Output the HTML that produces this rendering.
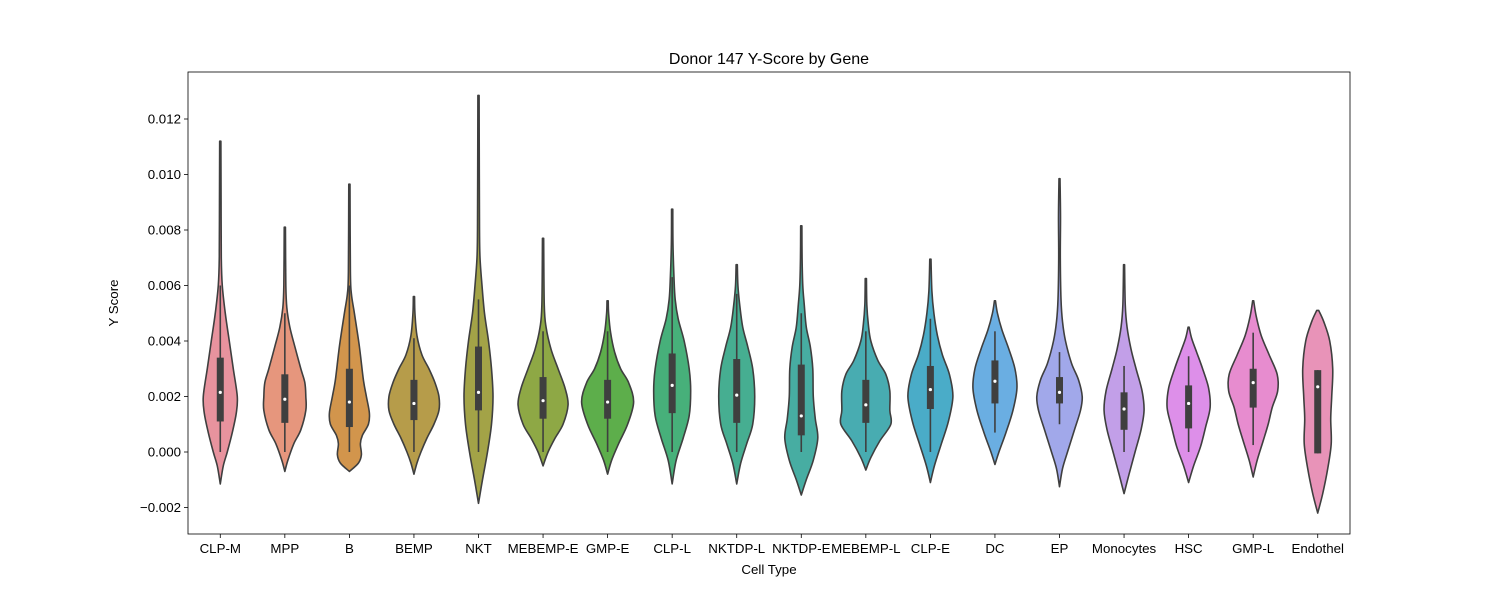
<!DOCTYPE html>
<html><head><meta charset="utf-8"><style>
body{margin:0;background:#fff;}
svg text{font-family:"Liberation Sans","DejaVu Sans",sans-serif;fill:#000;}
</style></head><body>
<svg id="chart" width="1500" height="600" xmlns="http://www.w3.org/2000/svg">
<rect width="1500" height="600" fill="#fff"/>
<text x="769" y="64" font-size="16" text-anchor="middle">Donor 147 Y-Score by Gene</text>
<g id="plot"></g>
<text x="769" y="574" font-size="13.3" text-anchor="middle">Cell Type</text>
<text transform="translate(118,303) rotate(-90)" font-size="13.3" text-anchor="middle">Y Score</text>
</svg>
<script>
const categories=["CLP-M","MPP","B","BEMP","NKT","MEBEMP-E","GMP-E","CLP-L","NKTDP-L","NKTDP-E","MEBEMP-L","CLP-E","DC","EP","Monocytes","HSC","GMP-L","Endothel"];
const colors=["#e8939e","#e6967d","#d2954c","#b69c4a","#a3a347","#8ea845","#5dae4b","#47b07a","#46ae91","#47ada2","#48acb1","#4aacc8","#6aaee2","#a1a8ea","#c29fe8","#dd8fe9","#e78ccf","#e893b8"];
// density profiles: [value (x1e-3), half-width density]
const densities=[
[[-1.15,0],[-0.5,3],[0,7],[0.7,12],[1.4,16],[2,17],[3,13],[4,9],[5,5],[6,2],[7,1],[9,0.8],[11.2,0.6]],
[[-0.7,0],[-0.3,3],[0.3,9],[0.8,16],[1.5,21],[2,21],[2.5,20],[3,16],[3.8,10],[4.5,5],[5.2,2],[6,1],[8.1,0.6]],
[[-0.7,0],[-0.4,9],[-0.1,12],[0.3,11],[0.6,13],[1.0,19],[1.4,20],[2,17],[2.6,14],[3.8,10],[5,5],[5.7,2],[6.5,1],[9.65,0.6]],
[[-0.8,0],[-0.4,3],[0,7],[0.5,13],[1,20],[1.5,25],[2,25],[2.5,21],[3,15],[3.5,8],[4.2,3],[5,1],[5.6,0.6]],
[[-1.85,0],[-1,4],[0,9],[1,13],[2,14.5],[3,13],[4,10],[5,6],[6,3.5],[7,1.5],[8,1],[10,0.8],[12.85,0.6]],
[[-0.5,0],[0,5],[0.5,12],[1,20],[1.7,25],[2.3,22],[3,15],[3.7,8],[4.5,3],[5.3,1.2],[7.7,0.6]],
[[-0.8,0],[-0.3,4],[0.3,11],[1,20],[1.8,26],[2.5,21],[3,13],[3.6,7],[4.3,3],[5,1],[5.45,0.6]],
[[-1.15,0],[-0.3,4],[0.5,11],[1.3,17],[2.2,18.5],[3,17],[4,12],[4.8,6],[5.5,3],[6.3,1.8],[7.5,0.8],[8.75,0.6]],
[[-1.15,0],[-0.4,4],[0.3,10],[1,16],[2,18],[3,16],[3.8,11],[4.5,6],[5.3,3],[6,1.2],[6.75,0.6]],
[[-1.55,0],[-1,5],[-0.3,12],[0.5,16.5],[1.2,14],[2,12],[3,11.5],[3.8,9],[4.5,5],[5.3,3],[6,1.5],[7,0.8],[8.15,0.6]],
[[-0.65,0],[-0.2,5],[0.4,14],[1,25],[1.5,24],[2.2,24],[2.8,20],[3.3,12],[4,5],[4.6,2.5],[5.3,1],[6.25,0.6]],
[[-1.1,0],[-0.5,4],[0.3,11],[1.1,18],[2,22.5],[2.8,19],[3.5,12],[4.2,7],[5,3.5],[5.8,1.5],[6.95,0.6]],
[[-0.45,0],[0,4],[0.7,11],[1.5,18],[2.3,22],[3,20],[3.7,14],[4.4,7],[5,2.5],[5.45,0.5]],
[[-1.25,0],[-0.6,3],[0,8],[0.8,15],[1.5,21],[2,22.7],[2.6,19],[3.2,12],[4,6],[4.7,3],[5.5,1.5],[7,0.8],[8.5,1],[9.85,0.5]],
[[-1.5,0],[-0.8,5],[0,11],[0.8,17],[1.5,20],[2.2,18],[3,12],[3.7,7],[4.5,3],[5.3,1.2],[6.75,0.5]],
[[-1.1,0],[-0.5,5],[0.2,12],[0.9,17],[1.6,21.5],[2.3,20],[3,14],[3.6,8],[4.1,3],[4.5,0.5]],
[[-0.9,0],[-0.3,4],[0.4,10],[1,15],[1.6,19],[2.2,24.5],[2.8,24],[3.5,16],[4.2,8],[4.9,3],[5.45,0.5]],
[[-2.2,0],[-1.5,5],[-0.6,10],[0.3,13.5],[1.2,13],[2,14],[3,15],[4,12],[4.7,6],[5.1,1]]
];
const q1=[1.1,1.05,0.9,1.15,1.5,1.2,1.2,1.4,1.05,0.6,1.05,1.55,1.75,1.75,0.8,0.85,1.6,-0.05];
const q3=[3.4,2.8,3.0,2.6,3.8,2.7,2.6,3.55,3.35,3.15,2.6,3.1,3.3,2.7,2.15,2.4,3.0,2.95];
const medians=[2.15,1.9,1.8,1.75,2.15,1.85,1.8,2.4,2.05,1.3,1.7,2.25,2.55,2.15,1.55,1.75,2.5,2.35];
const whiskerLo=[0,0,0,0,0,0,0,0,0,0,0,0,0.7,1.0,0,0,0.25,-0.05];
const whiskerHi=[6.0,5.0,6.0,4.1,5.5,4.35,4.35,6.3,5.7,5.0,4.35,4.8,4.35,3.6,3.1,3.45,4.3,2.95];
const yTicks=[-0.002,0,0.002,0.004,0.006,0.008,0.010,0.012];
const yTickLabels=["\u22120.002","0.000","0.002","0.004","0.006","0.008","0.010","0.012"];

const L=188,R=1350,T=72,B=534;
const y=v=>452-v*27.75;
const bw=(R-L)/categories.length;
const x=i=>L+bw*(i+0.5);
const NS="http://www.w3.org/2000/svg";
const g=document.getElementById('plot');
function mk(t,a,p){const e=document.createElementNS(NS,t);for(const k in a)e.setAttribute(k,a[k]);(p||g).appendChild(e);return e;}
function segs(pts){let d="";for(let i=0;i<pts.length-1;i++){const p0=pts[Math.max(0,i-1)],p1=pts[i],p2=pts[i+1],p3=pts[Math.min(pts.length-1,i+2)];const c1=[p1[0]+(p2[0]-p0[0])/6,p1[1]+(p2[1]-p0[1])/6],c2=[p2[0]-(p3[0]-p1[0])/6,p2[1]-(p3[1]-p1[1])/6];d+=" C"+c1[0].toFixed(2)+","+c1[1].toFixed(2)+" "+c2[0].toFixed(2)+","+c2[1].toFixed(2)+" "+p2[0].toFixed(2)+","+p2[1].toFixed(2);}return d;}
yTicks.forEach((t,i)=>{
  const yy=y(t*1000);
  const tk=mk('line',{x1:L-4,x2:L,y1:yy,y2:yy,stroke:'#000','stroke-width':0.8});
  
  
  const tx=mk('text',{x:L-7,y:yy+4.5,'font-size':13.3,'text-anchor':'end'});
  tx.textContent=yTickLabels[i];
  
  
});
categories.forEach((c,i)=>{
  const cx=x(i);
  const d=densities[i];
  const right=d.map(p=>[cx+p[1],y(p[0])]);
  const left=d.slice().reverse().map(p=>[cx-p[1],y(p[0])]);
  const path="M"+right[0][0]+","+right[0][1]+segs(right)+" L"+left[0][0]+","+left[0][1]+segs(left)+" Z";
  const v=mk('path',{d:path,fill:colors[i],stroke:'#3f3f3f','stroke-width':1.6,'stroke-linejoin':'round'});
  
  
  const w=mk('line',{x1:cx,x2:cx,y1:y(whiskerLo[i]),y2:y(whiskerHi[i]),stroke:'#3f3f3f','stroke-width':1.6});
  
  
  const b=mk('rect',{x:cx-3.5,y:y(q3[i]),width:7,height:y(q1[i])-y(q3[i]),fill:'#3f3f3f'});
  
  
  const m=mk('circle',{cx:cx,cy:y(medians[i]),r:1.6,fill:'#fff'});
  
  
  const tk=mk('line',{x1:cx,x2:cx,y1:B,y2:B+4,stroke:'#000','stroke-width':0.8});
  
  
  const tx=mk('text',{x:cx,y:B+19,'font-size':13.3,'text-anchor':'middle'});
  tx.textContent=c;
  
  
});
const fr=mk('rect',{x:L,y:T,width:R-L,height:B-T,fill:'none',stroke:'#000','stroke-width':0.8});


</script>
</body></html>
